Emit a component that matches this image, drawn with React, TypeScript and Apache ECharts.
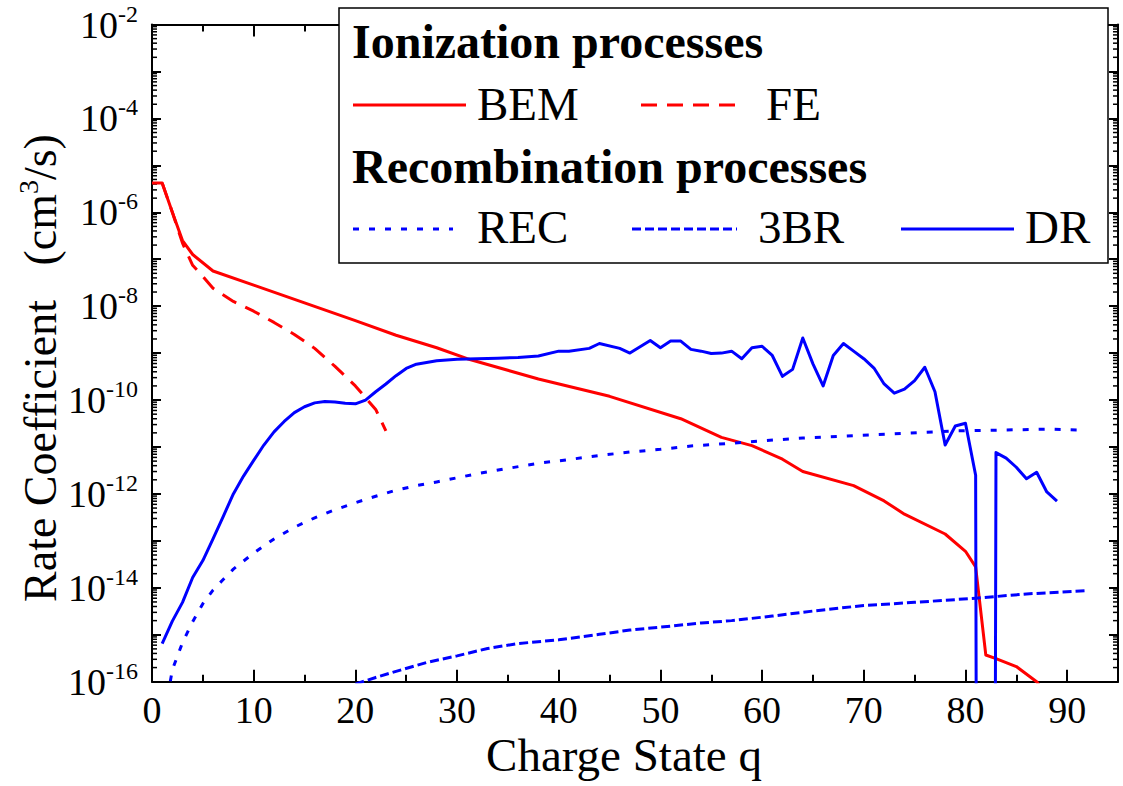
import React, { useEffect, useRef } from "react";
import * as echarts from "echarts";

// ---- Data (q, rate coefficient in cm^3/s) ----
const BEM: [number, number][] = [
  [0, 4.2e-6], [1, 4.2e-6], [2, 1.0e-6], [3, 2.5e-7], [4, 1.26e-7], [6, 5.6e-8],
  [10, 2.8e-8], [15, 1.17e-8], [20, 4.9e-9], [24, 2.4e-9], [28, 1.3e-9], [31, 7.6e-10],
  [38, 2.8e-10], [45, 1.2e-10], [52, 4.0e-11], [56, 1.6e-11], [59, 1.07e-11], [62, 5.5e-12],
  [64, 3.0e-12], [69, 1.5e-12], [72, 7.1e-13], [74, 3.7e-13], [78, 1.4e-13], [80, 6.0e-14],
  [81, 2.8e-14], [82, 3.7e-16], [83, 3.1e-16], [85, 2.1e-16], [87, 1.0e-16], [88, 5.0e-17],
];

const FE: [number, number][] = [
  [1, 4.2e-6], [2, 1.0e-6], [3, 2.2e-7], [4, 7.4e-8], [5, 4.3e-8], [6, 2.4e-8], [8, 1.26e-8],
  [10, 7.8e-9], [12, 4.5e-9], [14, 2.5e-9], [16, 1.26e-9], [18, 5.2e-10], [20, 2.0e-10],
  [22, 6.3e-11], [23, 2.2e-11],
];

const REC: [number, number][] = [
  [1, 1e-17], [2, 1.8e-16], [3, 6.8e-16], [4, 1.9e-15], [5, 4.6e-15], [6, 8.9e-15], [7, 1.5e-14],
  [8, 2.5e-14], [10, 5.5e-14], [12, 1.1e-13], [14, 1.95e-13], [16, 3.1e-13], [18, 4.6e-13],
  [20, 6.5e-13], [22, 8.9e-13], [24, 1.2e-12], [26, 1.5e-12], [28, 1.8e-12], [32, 2.7e-12],
  [35, 3.5e-12], [38, 4.5e-12], [41, 5.4e-12], [44, 6.6e-12], [47, 7.8e-12], [50, 8.9e-12],
  [53, 1.05e-11], [57, 1.2e-11], [60, 1.35e-11], [64, 1.55e-11], [69, 1.74e-11], [74, 1.95e-11],
  [79, 2.2e-11], [84, 2.3e-11], [88, 2.4e-11], [91, 2.3e-11],
];

const TBR: [number, number][] = [
  [20, 8.9e-17], [22, 1.23e-16], [24, 1.66e-16], [27, 2.57e-16], [30, 3.55e-16], [33, 5.1e-16],
  [36, 6.5e-16], [40, 7.8e-16], [44, 1.02e-15], [47, 1.26e-15], [50, 1.45e-15], [54, 1.78e-15],
  [57, 2.0e-15], [61, 2.5e-15], [65, 3.2e-15], [70, 4.2e-15], [75, 4.9e-15], [81, 6.0e-15],
  [86, 7.4e-15], [92, 8.7e-15],
];

const DR: [number, number][] = [
  [1, 6.5e-16], [2, 1.95e-15], [3, 4.9e-15], [4, 1.66e-14], [5, 3.8e-14], [6, 1.1e-13],
  [7, 3.3e-13], [8, 1.0e-12], [9, 2.4e-12], [10, 5.2e-12], [11, 1.1e-11], [12, 2.1e-11],
  [13, 3.5e-11], [14, 5.4e-11], [15, 7.2e-11], [16, 8.7e-11], [17, 9.3e-11], [18, 9.1e-11],
  [19, 8.5e-11], [20, 8.3e-11], [21, 1.0e-10], [22, 1.5e-10], [23, 2.2e-10], [24, 3.3e-10],
  [25, 4.7e-10], [26, 5.8e-10], [27, 6.3e-10], [28, 6.9e-10], [30, 7.4e-10], [32, 7.6e-10],
  [34, 7.8e-10], [36, 8.1e-10], [38, 8.7e-10], [40, 1.1e-9], [41, 1.1e-9], [43, 1.26e-9],
  [44, 1.6e-9], [46, 1.26e-9], [47, 1.0e-9], [49, 1.86e-9], [50, 1.3e-9], [51, 1.8e-9],
  [52, 1.8e-9], [53, 1.2e-9], [54, 1.1e-9], [55, 9.8e-10], [56, 1.0e-9], [57, 1.1e-9],
  [58, 7.6e-10], [59, 1.3e-9], [60, 1.4e-9], [61, 8.9e-10], [62, 3.2e-10], [63, 4.5e-10],
  [64, 2.1e-9], [65, 5.9e-10], [66, 2.0e-10], [67, 8.9e-10], [68, 1.6e-9], [69, 1.1e-9],
  [70, 7.6e-10], [71, 4.8e-10], [72, 2.2e-10], [73, 1.4e-10], [74, 1.7e-10], [75, 2.6e-10],
  [76, 5.0e-10], [77, 1.5e-10], [78, 1.1e-11], [79, 2.8e-11], [80, 3.2e-11], [81, 2.5e-12],
  [82, 1e-100], [83, 7.6e-12], [84, 5.8e-12], [85, 3.7e-12], [86, 2.1e-12], [87, 2.9e-12],
  [88, 1.1e-12], [89, 7.0e-13],
];

// ---- Axis definitions ----
const X_MIN = 0;
const X_MAX = 95;
const Y_MIN = 1e-16;
const Y_MAX = 1e-2;
const Y_DECADES = [-16, -15, -14, -13, -12, -11, -10, -9, -8, -7, -6, -5, -4, -3];
const MINOR_MULT = [2, 3, 4, 5, 6, 7, 8, 9];

const LEGEND_TITLES = ["Ionization processes", "Recombination processes"];
const X_TITLE = "Charge State q";

const FONT = "Liberation Serif";
const RED = "#ff0000";
const BLUE = "#0000ff";

export default function App() {
  const ref = useRef<HTMLDivElement>(null);

  useEffect(() => {
    if (!ref.current) return;
    const chart = echarts.init(ref.current, undefined, { renderer: "svg" });

    const minorTicks: [number, number][] = [];
    for (const d of Y_DECADES) for (const m of MINOR_MULT) minorTicks.push([X_MIN, m * Math.pow(10, d)]);

    const axisLine = { show: true, onZero: false, lineStyle: { color: "#000", width: 2 } };
    const xMajor = (pos: string, labels: boolean) => ({
      type: "value",
      min: X_MIN,
      max: X_MAX,
      interval: 10,
      position: pos,
      axisLine,
      axisTick: { inside: true, length: 12, lineStyle: { color: "#000", width: 2 } },
      axisLabel: labels
        ? {
            formatter: (v: number) => (v % 10 === 0 ? String(v) : ""),
            fontFamily: FONT,
            fontSize: 38,
            lineHeight: 30,
            color: "#000",
            margin: 13,
          }
        : { show: false },
      splitLine: { show: false },
    });
    const xMinor = (pos: string) => ({
      type: "value",
      min: X_MIN,
      max: X_MAX,
      interval: 5,
      position: pos,
      axisLine: { show: false, onZero: false },
      axisTick: { inside: true, length: 7, lineStyle: { color: "#000", width: 2 } },
      axisLabel: { show: false },
      splitLine: { show: false },
    });
    const yAxis = (pos: string, labels: boolean) => ({
      type: "log",
      logBase: 10,
      min: Y_MIN,
      max: Y_MAX,
      interval: 1,
      position: pos,
      axisLine,
      axisTick: { inside: true, length: 9, lineStyle: { color: "#000", width: 2 } },
      axisLabel: labels
        ? {
            margin: 14,
            formatter: (v: number) => {
              const e = Math.round(Math.log10(v));
              return e % 2 === 0 ? `{a|10}{b|${e}}` : "";
            },
            rich: {
              a: { fontFamily: FONT, fontSize: 38, color: "#000", lineHeight: 46 },
              b: { fontFamily: FONT, fontSize: 24, color: "#000", lineHeight: 4, verticalAlign: "top" },
            },
          }
        : { show: false },
      splitLine: { show: false },
    });

    const line = (name: string, data: [number, number][], color: string, type: any) => ({
      name,
      type: "line",
      data,
      xAxisIndex: 0,
      yAxisIndex: 0,
      showSymbol: false,
      symbol: "none",
      clip: true,
      z: 5,
      lineStyle: { color, width: 3, type, cap: "butt", join: "round" },
    });

    const legendLine = (x1: number, x2: number, y: number, color: string, dash: number[] | null) => ({
      type: "line",
      z: 101,
      shape: { x1, y1: y, x2, y2: y },
      style: { stroke: color, lineWidth: 3, lineDash: dash || undefined },
    });
    const legendText = (x: number, y: number, text: string, bold = false, size = 47) => ({
      type: "text",
      z: 101,
      x,
      y,
      style: {
        text,
        fontFamily: FONT,
        fontSize: size,
        fontWeight: bold ? "bold" : "normal",
        fill: "#000",
        align: "left",
        verticalAlign: "middle",
      },
    });

    chart.setOption({
      animation: false,
      backgroundColor: "#ffffff",
      grid: { left: 152, right: 5, top: 24.5, bottom: 104.3, containLabel: false },
      xAxis: [xMajor("bottom", true), xMinor("bottom"), xMajor("top", false), xMinor("top")],
      yAxis: [yAxis("left", true), yAxis("right", false)],
      series: [
        line("BEM", BEM, RED, "solid"),
        line("FE", FE, RED, [16, 10]),
        line("REC", REC, BLUE, [6, 10]),
        line("3BR", TBR, BLUE, [9, 4]),
        line("DR", DR, BLUE, "solid"),
        {
          type: "custom",
          xAxisIndex: 0,
          yAxisIndex: 0,
          silent: true,
          clip: false,
          z: 3,
          data: minorTicks,
          renderItem: (_p: any, api: any) => {
            const v = api.value(1);
            const l = api.coord([X_MIN, v]);
            const r = api.coord([X_MAX, v]);
            return {
              type: "group",
              children: [
                { type: "line", shape: { x1: l[0], y1: l[1], x2: l[0] + 5, y2: l[1] }, style: { stroke: "#000", lineWidth: 1.5 } },
                { type: "line", shape: { x1: r[0] - 5, y1: r[1], x2: r[0], y2: r[1] }, style: { stroke: "#000", lineWidth: 1.5 } },
              ],
            };
          },
        },
      ],
      graphic: [
        {
          type: "rect",
          z: 100,
          shape: { x: 339, y: 8, width: 769, height: 255 },
          style: { fill: "#ffffff", stroke: "#000", lineWidth: 1.5 },
        },
        legendText(352, 41, LEGEND_TITLES[0], true, 48),
        legendLine(353, 466, 105, RED, null),
        legendText(477, 104, "BEM"),
        legendLine(641, 735, 105, RED, [16, 10]),
        legendText(766, 104, "FE"),
        legendText(352, 166, LEGEND_TITLES[1], true, 48),
        legendLine(353, 453, 229, BLUE, [6, 10]),
        legendText(477, 227, "REC"),
        legendLine(632, 737, 229, BLUE, [9, 4]),
        legendText(758, 227, "3BR"),
        legendLine(901, 1014, 229, BLUE, null),
        legendText(1025, 227, "DR"),
        {
          type: "text",
          z: 101,
          x: 624,
          y: 755,
          style: {
            text: X_TITLE,
            fontFamily: FONT,
            fontSize: 47,
            fill: "#000",
            align: "center",
            verticalAlign: "middle",
          },
        },
        {
          type: "text",
          z: 101,
          x: 40,
          y: 368,
          rotation: Math.PI / 2,
          style: {
            text: "{m|Rate Coefficient   (cm}{s|3}{m|/s)}",
            align: "center",
            verticalAlign: "middle",
            rich: {
              m: { fontFamily: FONT, fontSize: 46, fill: "#000", lineHeight: 52 },
              s: { fontFamily: FONT, fontSize: 28, fill: "#000", lineHeight: 4, verticalAlign: "top" },
            },
          },
        },
      ],
    });

    return () => chart.dispose();
  }, []);

  return (
    <div
      ref={ref}
      style={{ position: "fixed", left: 0, top: 0, width: 1123, height: 786, background: "#fff" }}
    />
  );
}
